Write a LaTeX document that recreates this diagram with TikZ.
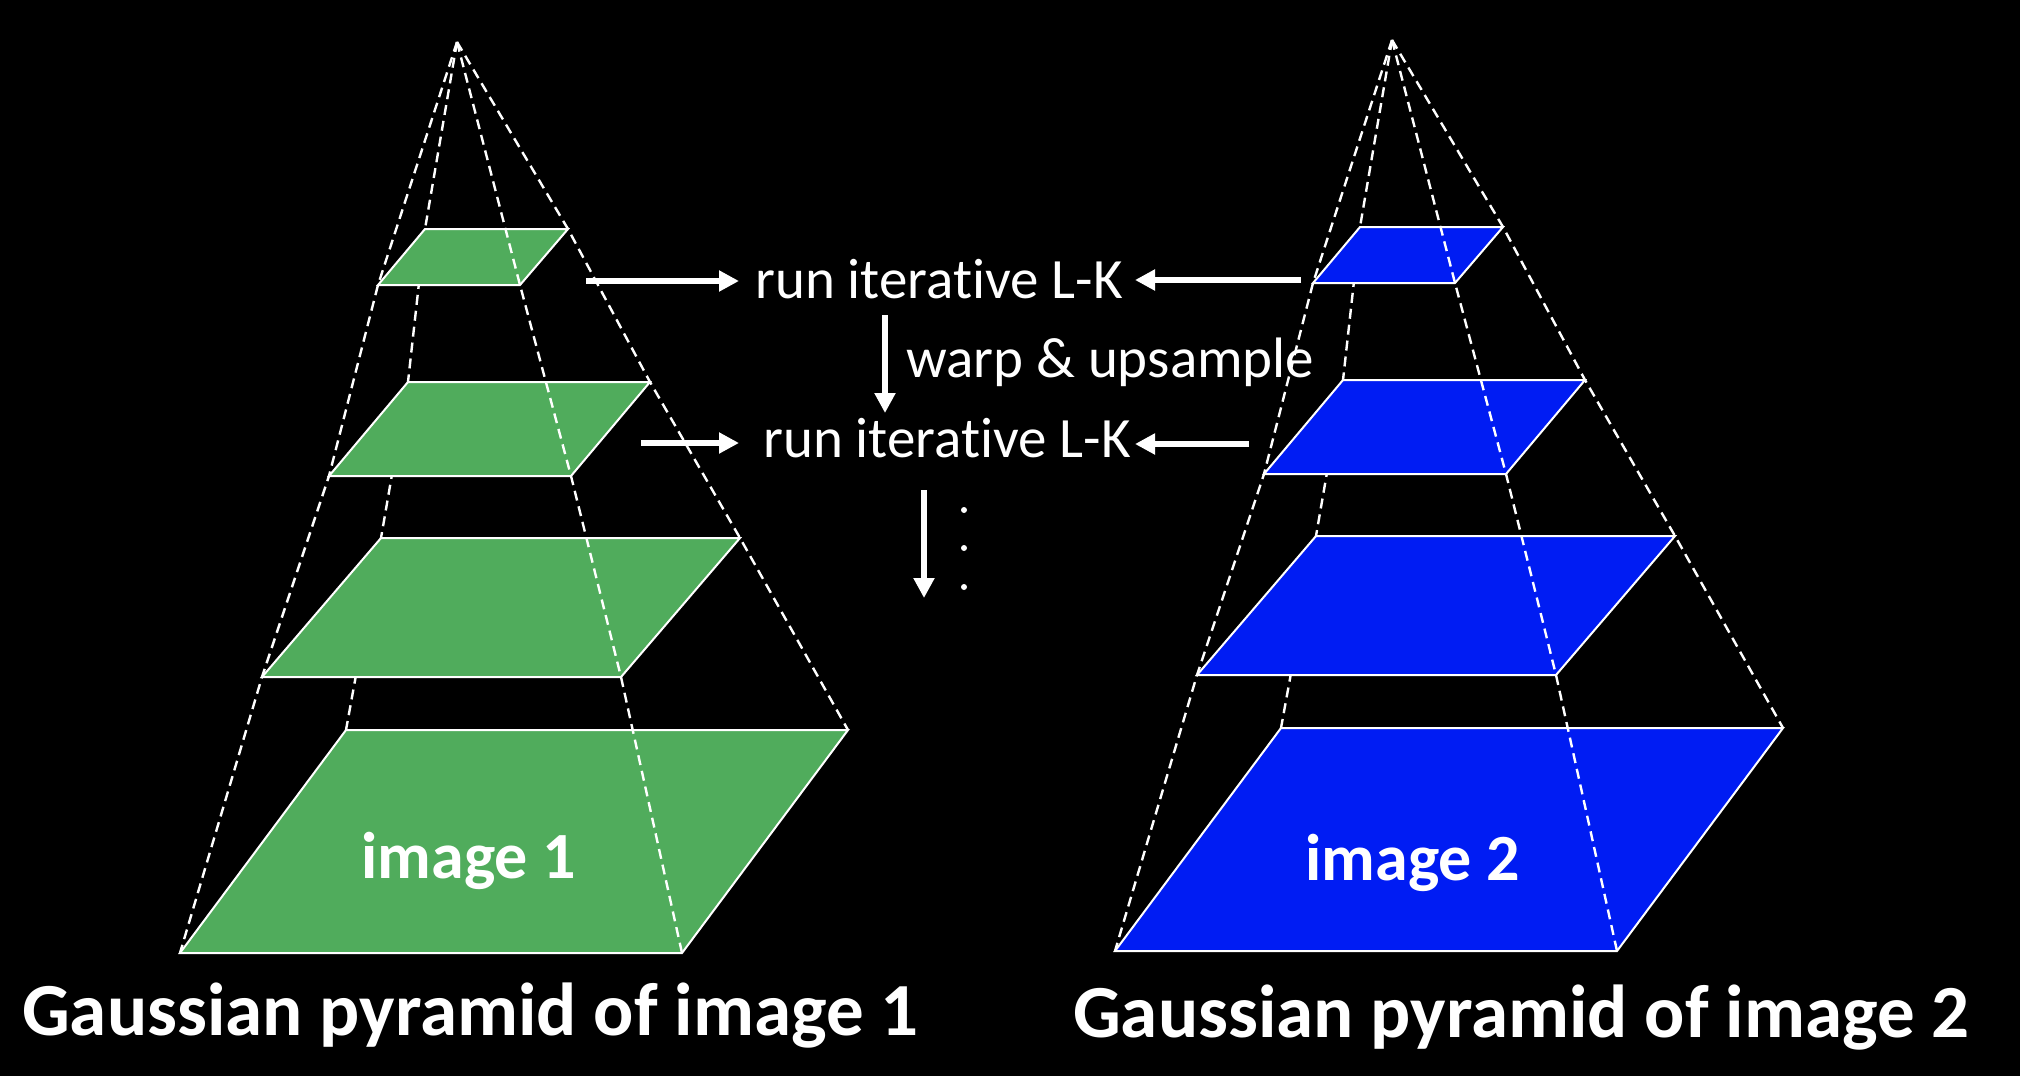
\documentclass[tikz,border=0pt]{standalone}
\usepackage{fontspec}
\setmainfont{Carlito}[Ligatures=NoCommon]
\usetikzlibrary{arrows.meta}
\definecolor{pgreen}{RGB}{80,172,92}
\definecolor{pblue}{RGB}{0,28,243}
\tikzset{
  guideline/.style={white, line width=2.4pt, dash pattern=on 10pt off 6pt},
  layer/.style={draw=white, line width=2pt, line join=miter},
  bigarrow/.style={white, line width=6pt, -{Triangle[width=20pt,length=20pt]}},
  lktext/.style={white, anchor=base west, inner sep=0pt, font=\fontsize{57}{62}\selectfont},
  imgtext/.style={white, anchor=base, inner sep=0pt, font=\bfseries\fontsize{66}{72}\selectfont},
  captiontext/.style={white, anchor=base west, inner sep=0pt, font=\bfseries\fontsize{75}{80}\selectfont},
}
\newcommand{\pyr}[2]{%
  \coordinate (#1A) at (457,42);
  \coordinate (#1TL1) at (425,229); \coordinate (#1TR1) at (568,229);
  \coordinate (#1BR1) at (520,285); \coordinate (#1BL1) at (378,285);
  \coordinate (#1TL2) at (408,382); \coordinate (#1TR2) at (650,382);
  \coordinate (#1BR2) at (571,476); \coordinate (#1BL2) at (329,476);
  \coordinate (#1TL3) at (381,538); \coordinate (#1TR3) at (740,538);
  \coordinate (#1BR3) at (621,677); \coordinate (#1BL3) at (262,677);
  \coordinate (#1TL4) at (346,730); \coordinate (#1TR4) at (848,730);
  \coordinate (#1BR4) at (682,953); \coordinate (#1BL4) at (180,953);
  \draw[guideline] (#1A) -- (#1TL1) -- (#1TL2) -- (#1TL3) -- (#1TL4);
  \foreach \k in {1,...,4} {
    \filldraw[layer, fill=#2] (#1TL\k) -- (#1TR\k) -- (#1BR\k) -- (#1BL\k) -- cycle;
  }
  \draw[guideline] (#1A) -- (#1TR1) -- (#1TR2) -- (#1TR3) -- (#1TR4);
  \draw[guideline] (#1A) -- (#1BR1) -- (#1BR2) -- (#1BR3) -- (#1BR4);
  \draw[guideline] (#1A) -- (#1BL1) -- (#1BL2) -- (#1BL3) -- (#1BL4);
}
\begin{document}
\begin{tikzpicture}[x=1pt, y=-1pt]
  \useasboundingbox (0,0) rectangle (2020,1076);
  \fill[black] (0,0) rectangle (2020,1076);

  % left pyramid
  \pyr{p}{pgreen}
  % right pyramid
  \begin{scope}[shift={(935,-2)}]
    \pyr{q}{pblue}
  \end{scope}

  % labels inside the bottom levels
  \node[imgtext] (img1) at (469,878) {image 1};
  \node[imgtext] (img2) at (1413,880) {image 2};

  % middle texts
  \node[lktext] (lk1) at (755,298) {run iterative L-K};
  \node[lktext] (warp) at (906,377) {warp \& upsample};
  \node[lktext] (lk2) at (763,457) {run iterative L-K};

  % arrow end points
  \coordinate (a1s) at (586,281);  \coordinate (a1e) at (739,281);
  \coordinate (a2s) at (641,443);  \coordinate (a2e) at (739,443);
  \coordinate (a3s) at (1301,280); \coordinate (a3e) at (1135,280);
  \coordinate (a4s) at (1249,444); \coordinate (a4e) at (1135,444);
  \coordinate (a5s) at (885,315);  \coordinate (a5e) at (885,413);
  \coordinate (a6s) at (924,490);  \coordinate (a6e) at (924,598);

  \draw[bigarrow] (a1s) -- (a1e);
  \draw[bigarrow] (a2s) -- (a2e);
  \draw[bigarrow] (a3s) -- (a3e);
  \draw[bigarrow] (a4s) -- (a4e);
  \draw[bigarrow] (a5s) -- (a5e);
  \draw[bigarrow] (a6s) -- (a6e);

  % vertical dots
  \fill[white] (964,510) circle (3);
  \fill[white] (964,548) circle (3);
  \fill[white] (964,587) circle (3);

  % captions
  \node[captiontext] (cap1) at (22,1035) {Gaussian pyramid of image 1};
  \node[captiontext] (cap2) at (1073,1037) {Gaussian pyramid of image 2};
\end{tikzpicture}
\end{document}
